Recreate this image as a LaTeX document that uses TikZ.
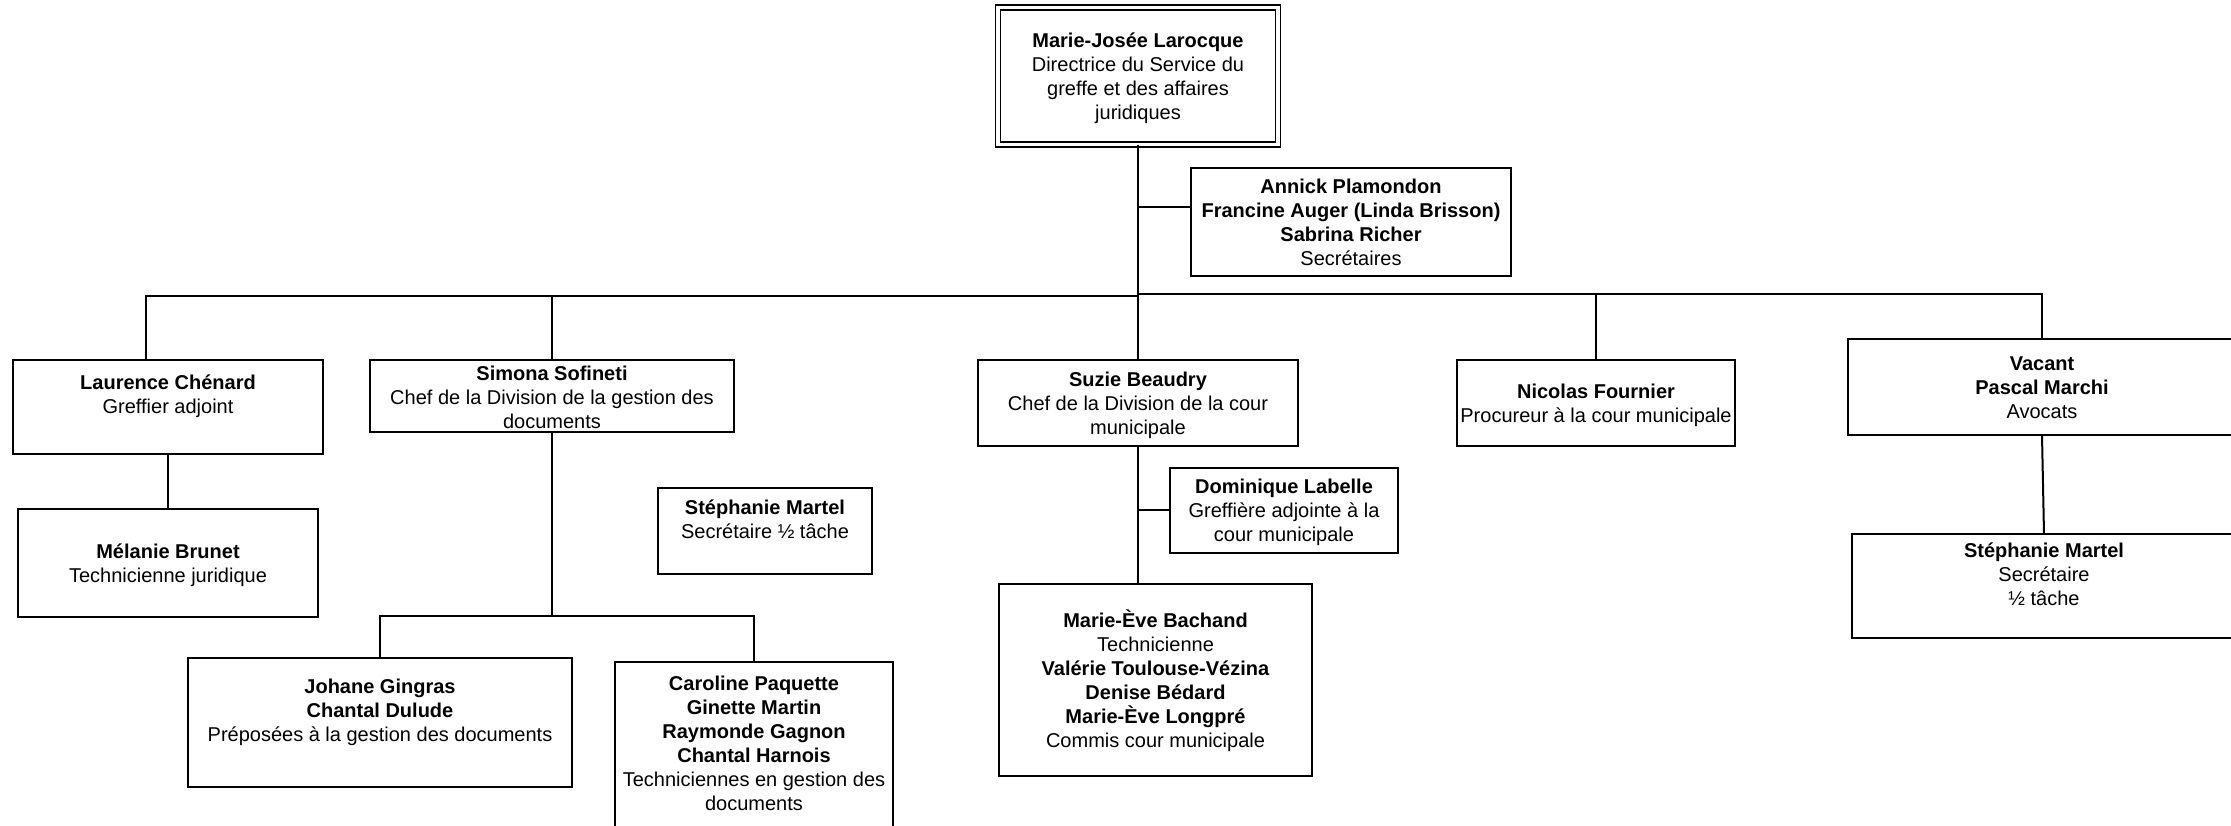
\documentclass[tikz,border=0pt]{standalone}
\usepackage{fontspec}
\setmainfont{Liberation Sans}
\newcommand{\firstln}{\rule{0pt}{22pt}}
\begin{document}
\begin{tikzpicture}[x=1pt,y=-1pt,
  every node/.style={font=\fontsize{20}{24}\selectfont},
  box/.style={draw, line width=2pt, rectangle, inner sep=0pt, outer sep=0pt, align=center},
  link/.style={line width=2pt}]
\useasboundingbox (0,0) rectangle (2231,825);
\fill[white] (0,0) rectangle (2231,825);

% top
\node[box, double, line width=1.5pt, double distance=3.5pt, minimum width=280pt, minimum height=137pt] (top) at (1138,76)
  {\firstln\textbf{Marie-Josée Larocque}\\Directrice du Service du\\greffe et des affaires\\juridiques\strut};
\node[box, minimum width=320pt, minimum height=108pt] (sec) at (1351,222)
  {\firstln\textbf{Annick Plamondon}\\\textbf{Francine Auger (Linda Brisson)}\\\textbf{Sabrina Richer}\\Secrétaires\strut};

% level 2
\node[box, minimum width=310pt, minimum height=94pt] (laur) at (168,406.5)
  {\firstln\textbf{Laurence Chénard}\\Greffier adjoint\\\strut};
\node[box, minimum width=300pt, minimum height=108pt] (mel) at (168,563)
  {\firstln\textbf{Mélanie Brunet}\\Technicienne juridique\strut};
\node[box, minimum width=364pt, minimum height=72pt] (sim) at (552,396)
  {\rule{0pt}{20pt}\textbf{Simona Sofineti}\\Chef de la Division de la gestion des\\documents\rule[-4pt]{0pt}{4pt}};
\node[box, minimum width=214pt, minimum height=86pt] (steph) at (765,531)
  {\firstln\textbf{Stéphanie Martel}\\Secrétaire ½ tâche\\\strut};
\node[box, minimum width=384pt, minimum height=129pt] (joh) at (380,722.5)
  {\firstln\textbf{Johane Gingras}\\\textbf{Chantal Dulude}\\Préposées à la gestion des documents\\\strut};
\node[box, minimum width=278pt, minimum height=186pt] (car) at (754,755)
  {\firstln\textbf{Caroline Paquette}\\\textbf{Ginette Martin}\\\textbf{Raymonde Gagnon}\\\textbf{Chantal Harnois}\\Techniciennes en gestion des\\documents\\\strut};
\node[box, minimum width=320pt, minimum height=86pt] (suz) at (1138,403)
  {\firstln\textbf{Suzie Beaudry}\\Chef de la Division de la cour\\municipale\strut};
\node[box, minimum width=228pt, minimum height=85pt] (dom) at (1284,510)
  {\firstln\textbf{Dominique Labelle}\\Greffière adjointe à la\\cour municipale\strut};
\node[box, minimum width=313pt, minimum height=192pt] (mev) at (1155.5,680)
  {\firstln\textbf{Marie-Ève Bachand}\\Technicienne\\\textbf{Valérie Toulouse-Vézina}\\\textbf{Denise Bédard}\\\textbf{Marie-Ève Longpré}\\Commis cour municipale\strut};
\node[box, minimum width=278pt, minimum height=86pt] (nic) at (1596,403)
  {\firstln\textbf{Nicolas Fournier}\\Procureur à la cour municipale\strut};
\node[box, minimum width=388pt, minimum height=96pt] (vac) at (2042,387)
  {\firstln\textbf{Vacant}\\\textbf{Pascal Marchi}\\Avocats\strut};
\node[box, minimum width=384pt, minimum height=104pt] (steph2) at (2044,586)
  {\firstln\textbf{Stéphanie Martel}\\Secrétaire\\½ tâche\\\strut};

% connectors
\coordinate (bj) at (1138,296);
\coordinate (bl) at (146,296);
\coordinate (bjr) at (1138,294);
\coordinate (sj) at (1138,207);
\coordinate (subbus) at (552,616);

\draw[link] (top.south) -- (suz.north);
\draw[link] (sj) -- (sj -| sec.west);
\draw[link] (bj) -- (bl) -- (bl |- laur.north);
\draw[link] (sim.north |- bj) -- (sim.north);
\draw[link] (bjr) -- (vac.north |- bjr) -- (vac.north);
\draw[link] (nic.north |- bjr) -- (nic.north);
\draw[link] (laur.south) -- (mel.north);
\draw[link] (sim.south) -- (subbus);
\draw[link] (joh.north) -- (joh.north |- subbus) -- (car.north |- subbus) -- (car.north);
\draw[link] (suz.south) -- (suz.south |- mev.north);
\draw[link] (suz.south |- dom.west) -- (dom.west);
\draw[link] (vac.south) -- (steph2.north);
\end{tikzpicture}
\end{document}
